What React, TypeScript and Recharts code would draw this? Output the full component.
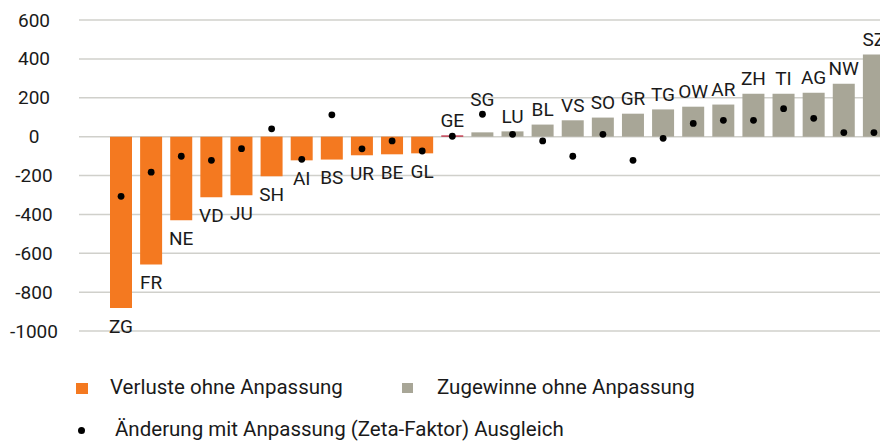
import { Bar, Cell, ComposedChart, CartesianGrid, LabelList, Scatter, XAxis, YAxis } from "recharts";

const cantons = ["ZG", "FR", "NE", "VD", "JU", "SH", "AI", "BS", "UR", "BE", "GL", "GE", "SG", "LU", "BL", "VS", "SO", "GR", "TG", "OW", "AR", "ZH", "TI", "AG", "NW", "SZ"];
const ohneAnpassung = [-882, -658, -430, -312, -302, -204, -122, -118, -96, -91, -86, 6, 22, 27, 62, 84, 98, 118, 140, 154, 165, 221, 221, 226, 272, 422];
const mitAnpassung = [-307, -183, -101, -122, -62, 40, -117, 112, -63, -22, -74, 2, 115, 12, -22, -101, 12, -122, -9, 68, 84, 84, 144, 94, 21, 21];
const yTicks = [-1000, -800, -600, -400, -200, 0, 200, 400, 600];

const ORANGE = "#f47920";
const GREY = "#a8a697";
const RED = "#b8102a";
const FONT = "Roboto, sans-serif";

const rows = cantons.map((name, i) => ({ name, value: ohneAnpassung[i], dot: mitAnpassung[i] }));

const CantonLabel = (props: any) => {
  const vb = props.viewBox || props;
  const i = cantons.indexOf(props.value);
  if (i < 0 || vb.y == null) return null;
  const v = ohneAnpassung[i];
  const top = Math.min(vb.y, vb.y + vb.height);
  const bottom = Math.max(vb.y, vb.y + vb.height);
  const cx = vb.x + vb.width / 2;
  let ly;
  if (v < 0) {
    ly = bottom + 18;
  } else {
    const per = v !== 0 ? (bottom - top) / v : 0;
    const dotPx = bottom - mitAnpassung[i] * per;
    ly = Math.min(top, dotPx) - 15;
  }
  return (
    <text x={cx} y={ly} textAnchor="middle" dominantBaseline="central" fontSize={19} fontFamily={FONT} fill="#1a1a1a">
      {props.value}
    </text>
  );
};

const YTick = (props: any) => (
  <text x={34} y={props.y} textAnchor="middle" dominantBaseline="central" fontSize={19} fontFamily={FONT} fill="#1a1a1a">
    {props.payload.value}
  </text>
);

const Dot = (props: any) => <circle cx={props.cx} cy={props.cy} r={3.4} fill="#000" />;

const legendText = { position: "absolute" as const, fontSize: 20.5, fontFamily: FONT, color: "#1a1a1a", lineHeight: "20px", whiteSpace: "nowrap" as const };

export default function App() {
  return (
    <div style={{ position: "absolute", left: 0, top: 0, width: 880, height: 442, overflow: "hidden", background: "#fff" }}>
      <ComposedChart width={890} height={345} data={rows} margin={{ top: 20, right: 1, bottom: 14, left: 0 }}>
        <CartesianGrid vertical={false} stroke="#d0d0cb" strokeWidth={1.5} />
        <XAxis dataKey="name" type="category" hide padding={{ left: 27, right: 0 }} />
        <YAxis
          type="number"
          domain={[-1000, 600]}
          ticks={yTicks}
          width={79}
          axisLine={false}
          tickLine={false}
          tick={<YTick />}
          interval={0}
        />
        <Bar dataKey="value" barSize={22} isAnimationActive={false}>
          {rows.map((r) => (
            <Cell key={r.name} fill={r.name === "GE" ? RED : r.value < 0 ? ORANGE : GREY} />
          ))}
          <LabelList dataKey="name" content={<CantonLabel />} />
        </Bar>
        <Scatter dataKey="dot" shape={<Dot />} isAnimationActive={false} />
      </ComposedChart>

      <div style={{ position: "absolute", left: 76, top: 383, width: 12, height: 11, background: ORANGE }} />
      <div style={{ ...legendText, left: 110, top: 377 }}>Verluste ohne Anpassung</div>
      <div style={{ position: "absolute", left: 402, top: 383, width: 11, height: 10, background: GREY }} />
      <div style={{ ...legendText, left: 437, top: 377 }}>Zugewinne ohne Anpassung</div>
      <div style={{ position: "absolute", left: 78, top: 427, width: 7, height: 7, borderRadius: 4, background: "#000" }} />
      <div style={{ ...legendText, left: 115, top: 419 }}>Änderung mit Anpassung (Zeta-Faktor) Ausgleich</div>
    </div>
  );
}
